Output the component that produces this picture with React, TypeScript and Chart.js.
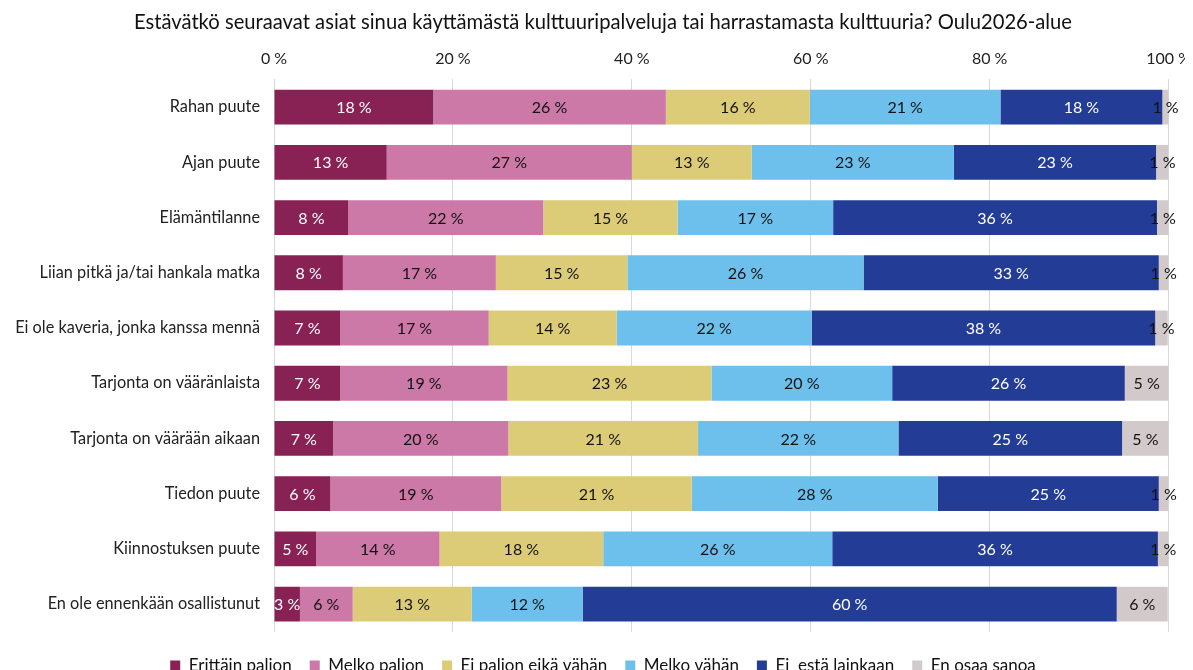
import React, { useEffect, useRef } from "react";
import { Chart, registerables } from "chart.js";
Chart.register(...registerables);

const categories = [
  "Rahan puute",
  "Ajan puute",
  "Elämäntilanne",
  "Liian pitkä ja/tai hankala matka",
  "Ei ole kaveria, jonka kanssa mennä",
  "Tarjonta on vääränlaista",
  "Tarjonta on väärään aikaan",
  "Tiedon puute",
  "Kiinnostuksen puute",
  "En ole ennenkään osallistunut",
];

const seriesNames = [
  "Erittäin paljon",
  "Melko paljon",
  "Ei paljon eikä vähän",
  "Melko vähän",
  "Ei  estä lainkaan",
  "En osaa sanoa",
];

const erittainPaljon = [17.8, 12.6, 8.3, 7.7, 7.4, 7.4, 6.6, 6.3, 4.7, 2.9];
const melkoPaljon = [26.0, 27.4, 21.8, 17.1, 16.6, 18.7, 19.6, 19.1, 13.8, 5.9];
const eiPaljonEikaVahan = [16.1, 13.4, 15.0, 14.7, 14.3, 22.8, 21.2, 21.3, 18.3, 13.3];
const melkoVahan = [21.3, 22.6, 17.4, 26.4, 21.8, 20.2, 22.4, 27.5, 25.6, 12.4];
const eiEstaLainkaan = [18.1, 22.6, 36.2, 33.0, 38.4, 26.0, 25.0, 24.7, 36.4, 59.7];
const enOsaaSanoa = [0.7, 1.4, 1.3, 1.1, 1.4, 4.9, 5.2, 1.1, 1.2, 5.7];

const xTicks = [0, 20, 40, 60, 80, 100];

const colors = ["#882255", "#CC79A7", "#DDCC77", "#6EC0EC", "#233C96", "#D2CACA"];
const labelColors = ["#ffffff", "#111111", "#111111", "#111111", "#ffffff", "#111111"];

const FONT = "Lato";

const segLabels = {
  id: "segLabels",
  afterDatasetsDraw(chart: any) {
    const ctx = chart.ctx;
    ctx.save();
    ctx.font = `16px ${FONT}`;
    ctx.textAlign = "center";
    ctx.textBaseline = "middle";
    chart.data.datasets.forEach((ds: any, i: number) => {
      const meta = chart.getDatasetMeta(i);
      meta.data.forEach((el: any, j: number) => {
        const { x, base, y } = el.getProps(["x", "base", "y"], true);
        ctx.fillStyle = labelColors[i];
        ctx.fillText(`${Math.round(ds.data[j])} %`, (x + base) / 2, y + 1);
      });
    });
    ctx.restore();
  },
};

// Draw the top axis tick labels ourselves so the last one is not clipped
const topTickLabels = {
  id: "topTickLabels",
  afterDraw(chart: any) {
    const ctx = chart.ctx;
    const scale = chart.scales.x;
    const top = chart.chartArea.top;
    ctx.save();
    ctx.font = `16px ${FONT}`;
    ctx.fillStyle = "#222";
    ctx.textAlign = "center";
    ctx.textBaseline = "middle";
    xTicks.forEach((v) => {
      ctx.fillText(`${v} %`, scale.getPixelForValue(v), top - 20.5);
    });
    ctx.restore();
  },
};

export default function App() {
  const ref = useRef<HTMLCanvasElement | null>(null);
  useEffect(() => {
    if (!ref.current) return;
    document.documentElement.style.overflow = "hidden";
    const values = [erittainPaljon, melkoPaljon, eiPaljonEikaVahan, melkoVahan, eiEstaLainkaan, enOsaaSanoa];
    const chart = new Chart(ref.current, {
      type: "bar",
      data: {
        labels: categories,
        datasets: values.map((d, i) => ({
          label: seriesNames[i],
          data: d,
          backgroundColor: colors[i],
          borderWidth: 0,
          barPercentage: 0.63,
          categoryPercentage: 1,
        })),
      },
      options: {
        indexAxis: "y",
        animation: false,
        responsive: true,
        maintainAspectRatio: false,
        layout: { padding: { left: 5, right: 0, top: 2, bottom: 0 } },
        scales: {
          x: {
            stacked: true,
            position: "top",
            min: 0,
            max: 100,
            afterBuildTicks: (s: any) => {
              s.ticks = xTicks.map((v) => ({ value: v }));
            },
            ticks: {
              callback: (v: any) => `${v} %`,
              font: { family: FONT, size: 16 },
              color: "rgba(0,0,0,0)",
              padding: 2,
              maxRotation: 0,
            },
            grid: {
              color: "#d9d9d9",
              drawTicks: true,
              tickLength: 9,
              tickColor: "rgba(0,0,0,0)",
              lineWidth: 1,
            },
            border: { display: false },
          },
          y: {
            stacked: true,
            afterFit: (s: any) => {
              s.width = 261;
            },
            ticks: {
              font: { family: FONT, size: 16.3 },
              color: "#222",
              padding: 14,
            },
            grid: { display: false, drawTicks: false },
            border: { display: false },
          },
        },
        plugins: {
          title: {
            display: true,
            text: "Estävätkö seuraavat asiat sinua käyttämästä kulttuuripalveluja tai harrastamasta kulttuuria? Oulu2026-alue",
            font: { family: FONT, size: 20.2, weight: "normal" },
            color: "#111",
            padding: { top: 0, bottom: 13 },
          },
          legend: {
            position: "bottom",
            title: {
              display: true,
              text: "",
              font: { size: 1 },
              padding: { top: 6, bottom: 0 },
            },
            labels: {
              font: { family: FONT, size: 17 },
              color: "#111",
              boxWidth: 10,
              boxHeight: 10,
              padding: 18,
            },
          },
          tooltip: { enabled: false },
        },
      },
      plugins: [segLabels, topTickLabels],
    });
    return () => chart.destroy();
  }, []);
  return (
    <div style={{ width: 1185, height: 676, position: "relative" }}>
      <canvas ref={ref} />
    </div>
  );
}
